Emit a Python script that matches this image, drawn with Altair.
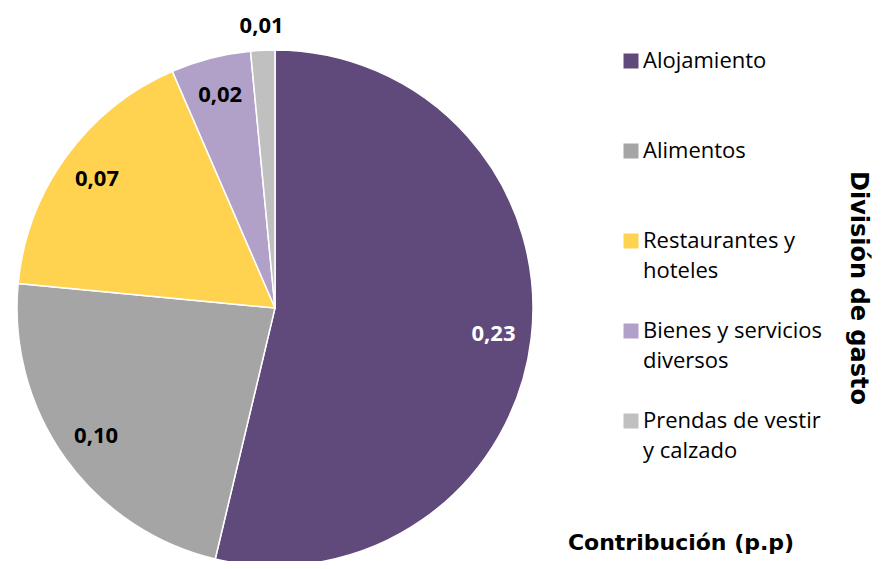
import altair as alt
import pandas as pd

categories = ["Alojamiento", "Alimentos", "Restaurantes y hoteles",
              "Bienes y servicios diversos", "Prendas de vestir y calzado"]
values = [0.231, 0.098, 0.073, 0.0215, 0.0065]
colors = ["#5f4a7b", "#a5a5a5", "#ffd34f", "#b1a1c8", "#c0c0c0"]
legend_lines = {
    "Alojamiento": ["Alojamiento", ""],
    "Alimentos": ["Alimentos", ""],
    "Restaurantes y hoteles": ["Restaurantes y", "hoteles"],
    "Bienes y servicios diversos": ["Bienes y servicios", "diversos"],
    "Prendas de vestir y calzado": ["Prendas de vestir", "y calzado"],
}
legend_title = "División de gasto"
chart_title = "Contribución (p.p)"

df = pd.DataFrame({"cat": categories, "value": values, "idx": list(range(len(categories)))})

label_expr = ""
for k, v in legend_lines.items():
    label_expr += f"datum.label == '{k}' ? {v} : "
label_expr += "datum.label"

color = alt.Color(
    "cat:N",
    scale=alt.Scale(domain=categories, range=colors),
    sort=categories,
    legend=alt.Legend(
        title=None,
        orient="none", legendX=612, legendY=42,
        labelFont="Open Sans", labelFontSize=22, labelColor="black",
        labelExpr=label_expr, labelLimit=300, labelOffset=1,
        symbolType="square", symbolSize=225, symbolStrokeWidth=0,
        rowPadding=38, padding=0,
    ),
)

CX, CY = 267, 300
order = alt.Order("idx:Q")

pie = alt.Chart(df).mark_arc(outerRadius=258, stroke="white", strokeWidth=1.5).encode(
    theta=alt.Theta("value:Q", stack=True), color=color, order=order,
    x=alt.value(CX), y=alt.value(CY),
)

base_text = alt.Chart(df).transform_window(
    cum="sum(value)", sort=[alt.SortField("idx")], frame=[None, 0]
).transform_calculate(
    mid="datum.cum - datum.value / 2",
    lab="replace(format(datum.value, '.2f'), '.', ',')",
)

labels_in = base_text.transform_filter("datum.value >= 0.015").mark_text(
    radius=220, font="Open Sans", fontSize=22, fontWeight="bold"
).encode(
    theta=alt.Theta("mid:Q", stack=None), text="lab:N",
    x=alt.value(CX), y=alt.value(CY),
    color=alt.condition("datum.idx == 0", alt.value("white"), alt.value("black")),
)

labels_out = base_text.transform_filter("datum.value < 0.015").mark_text(
    radius=282, font="Open Sans", fontSize=22, fontWeight="bold", color="black"
).encode(
    theta=alt.Theta("mid:Q", stack=None), text="lab:N",
    x=alt.value(CX), y=alt.value(CY),
)

title_df = pd.DataFrame({"t": [chart_title]})
legend_title_df = pd.DataFrame({"t": [legend_title]})

bottom_title = alt.Chart(title_df).mark_text(
    font="DejaVu Sans", fontSize=22, fontWeight="bold", color="black", baseline="middle"
).encode(text="t:N", x=alt.value(673), y=alt.value(535))

side_title = alt.Chart(legend_title_df).mark_text(
    font="DejaVu Sans", fontSize=24, fontWeight="bold", color="black",
    baseline="middle", angle=90
).encode(text="t:N", x=alt.value(850), y=alt.value(280))

chart = alt.layer(pie, labels_in, labels_out, bottom_title, side_title).resolve_scale(
    theta="shared"
).properties(
    width=869, height=553,
    autosize=alt.AutoSizeParams(type="none"),
    padding=0,
).configure(
    style={"guide-label": {"lineHeight": 30}},
    view=alt.ViewConfig(stroke=None),
)

chart.save("out.html", embed_options={"renderer": "svg", "actions": False})
